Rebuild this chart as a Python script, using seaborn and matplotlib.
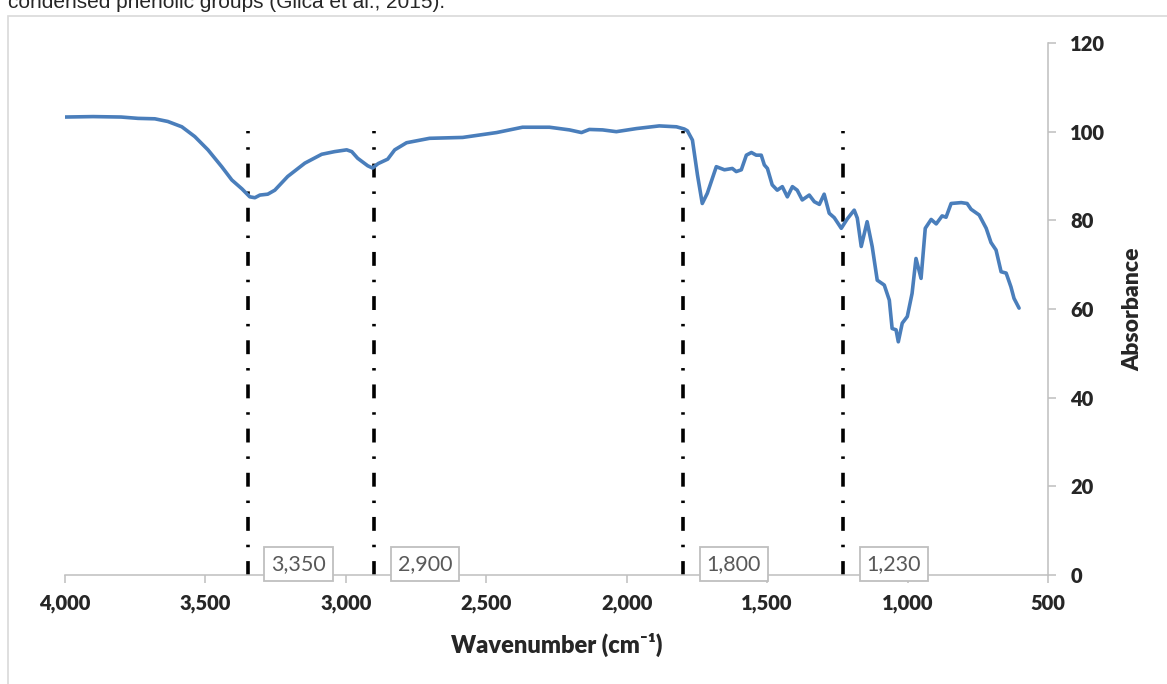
import matplotlib
matplotlib.use("Agg")
import matplotlib.pyplot as plt
import seaborn as sns
import pandas as pd
from matplotlib.patches import Rectangle

# FTIR spectrum
wavenumber = [4000, 3900, 3800, 3740, 3680, 3634, 3584, 3538, 3491, 3442, 3406, 3370,
              3342, 3324, 3306, 3278, 3253, 3207, 3146, 3086, 3040, 2997, 2979, 2958,
              2922, 2905, 2885, 2851, 2826, 2784, 2702, 2584, 2463, 2371, 2275, 2204,
              2161, 2133, 2086, 2037, 1965, 1884, 1823, 1795, 1784, 1766, 1748, 1731,
              1713, 1681, 1652, 1624, 1610, 1592, 1574, 1556, 1539, 1521, 1510, 1499,
              1482, 1464, 1446, 1428, 1410, 1393, 1375, 1350, 1332, 1314, 1297, 1279,
              1261, 1236, 1215, 1190, 1179, 1165, 1144, 1126, 1108, 1083, 1065, 1055,
              1041, 1033, 1019, 1001, 984, 970, 952, 937, 916, 898, 877, 863,
              845, 809, 788, 774, 745, 720, 703, 685, 667, 649, 632, 621, 603]
absorbance = [103.3, 103.4, 103.3, 103.0, 102.9, 102.3, 101.1, 98.9, 95.9, 92.1, 89.1, 87.1,
              85.3, 85.1, 85.7, 85.9, 86.8, 89.9, 92.9, 94.9, 95.5, 95.9, 95.5, 94.0,
              92.3, 91.8, 92.8, 93.8, 95.9, 97.5, 98.5, 98.7, 99.8, 101.0, 101.0, 100.4,
              99.8, 100.5, 100.4, 100.0, 100.7, 101.3, 101.1, 100.6, 100.2, 98.1, 90.2, 83.8,
              86.1, 92.1, 91.4, 91.7, 91.0, 91.4, 94.7, 95.3, 94.7, 94.7, 92.5, 91.7,
              88.0, 86.8, 87.6, 85.3, 87.6, 86.8, 84.6, 85.7, 84.2, 83.6, 85.9, 81.6,
              80.6, 78.2, 80.3, 82.3, 80.5, 74.1, 79.7, 74.1, 66.5, 65.4, 62.0, 55.6,
              55.3, 52.6, 56.8, 58.3, 63.5, 71.4, 66.9, 78.2, 80.2, 79.2, 81.0, 80.7,
              83.8, 84.0, 83.8, 82.5, 81.2, 78.2, 75.0, 73.3, 68.4, 68.1, 65.0, 62.4, 60.2]

peak_marks = [3350, 2900, 1800, 1230]
peak_labels = ["3,350", "2,900", "1,800", "1,230"]
peak_top = 100.2

x_ticks = [4000, 3500, 3000, 2500, 2000, 1500, 1000, 500]
y_ticks = [0, 20, 40, 60, 80, 100, 120]

sns.set_style("white")
plt.rcParams["font.family"] = ["Lato", "DejaVu Sans"]
plt.rcParams["lines.scale_dashes"] = False

W, H = 1167, 684
fig = plt.figure(figsize=(W / 100, H / 100), dpi=100)
ax = fig.add_axes([65 / W, 1 - 575 / H, (1048 - 65) / W, (575 - 43) / H])

df = pd.DataFrame({"wavenumber": wavenumber, "absorbance": absorbance})
sns.lineplot(data=df, x="wavenumber", y="absorbance", sort=False,
             color="#4a7ebb", lw=2.6, ax=ax, zorder=3)

# dash-dot markers at the band positions
ax.vlines(peak_marks, 0, peak_top, colors="black", lw=2.6,
          linestyles=[(0, (10, 10, 1.8, 10))], zorder=2)
for x, lab in zip(peak_marks, peak_labels):
    ax.annotate(lab, xy=(x, 0), xytext=(36.7, 7.9), textcoords="offset points",
                ha="center", va="center", fontsize=15.5, color="#595959",
                bbox=dict(boxstyle="square,pad=0.33", fc="white", ec="#bfbfbf", lw=1.3),
                annotation_clip=False, zorder=5)

ax.set_xlim(4000, 500)
ax.set_ylim(0, 120)
ax.set_xticks(x_ticks)
ax.set_xticklabels([f"{t:,}" for t in x_ticks])
ax.set_yticks(y_ticks)

grey = "#bfbfbf"
for side in ["top", "left"]:
    ax.spines[side].set_visible(False)
for side in ["bottom", "right"]:
    ax.spines[side].set_color(grey)
    ax.spines[side].set_linewidth(1.1)

ax.yaxis.tick_right()
ax.tick_params(axis="x", bottom=True, direction="out", length=6, width=1.1,
               color=grey, pad=8, labelsize=14.5)
ax.tick_params(axis="y", right=True, left=False, labelright=True, labelleft=False,
               direction="out", length=6, width=1.1, color=grey, pad=10, labelsize=14.5)
for t in ax.get_xticklabels() + ax.get_yticklabels():
    t.set_fontweight("heavy")

ax.set_xlabel("Wavenumber (cm\u207b\u00b9)", fontsize=17, fontweight="heavy")
ax.xaxis.set_label_coords(0.5, -(645 - 575) / 532)
ax.xaxis.label.set_va("center")
ax.set_ylabel("Absorbance", fontsize=16.5, fontweight="heavy")
ax.yaxis.set_label_position("right")
ax.yaxis.set_label_coords((1133 - 65) / 983, 0.5)
ax.yaxis.label.set_va("center")
ax.yaxis.label.set_ha("center")

# chart frame and the clipped line of text above it
fig.patches.append(Rectangle((8 / W, -0.1), 1.2, 1 - 16 / H + 0.1, transform=fig.transFigure,
                             fill=False, ec="#d9d9d9", lw=1.2))
fig.text(8 / W, 1 - 8 / H, "condensed phenolic groups (Gilca et al., 2015).",
         ha="left", va="baseline", fontsize=15, family="Liberation Sans")

fig.savefig("out.png", dpi=100)
